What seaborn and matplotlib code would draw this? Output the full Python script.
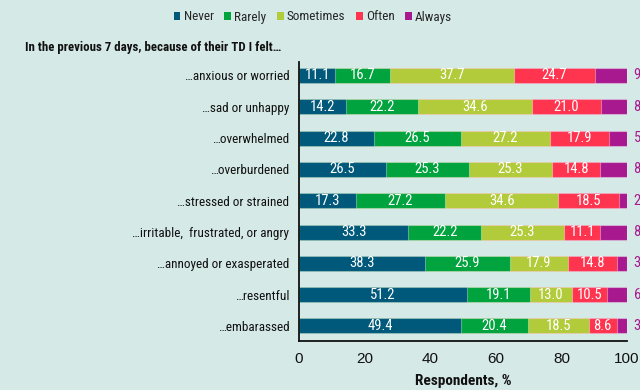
import matplotlib
matplotlib.use("Agg")
import matplotlib.pyplot as plt
import seaborn as sns
import pandas as pd
import numpy as np
from matplotlib.patches import Patch

categories = ["…anxious or worried", "…sad or unhappy", "…overwhelmed", "…overburdened",
              "…stressed or strained", "…irritable,  frustrated, or angry",
              "…annoyed or exasperated", "…resentful", "…embarassed"]
series = ["Never", "Rarely", "Sometimes", "Often", "Always"]
never = [11.1, 14.2, 22.8, 26.5, 17.3, 33.3, 38.3, 51.2, 49.4]
rarely = [16.7, 22.2, 26.5, 25.3, 27.2, 22.2, 25.9, 19.1, 20.4]
sometimes = [37.7, 34.6, 27.2, 25.3, 34.6, 25.3, 17.9, 13.0, 18.5]
often = [24.7, 21.0, 17.9, 14.8, 18.5, 11.1, 14.8, 10.5, 8.6]
always = [9.8, 8.0, 5.6, 8.1, 2.4, 8.1, 3.1, 6.2, 3.1]
colors = ["#00587a", "#00a33e", "#b2cb3a", "#ff344f", "#a8198f"]

bg = "#d5e9e7"
sns.set_theme(style="white")
NARROW = ["Roboto Condensed", "Liberation Sans", "DejaVu Sans"]
plt.rcParams["font.family"] = NARROW

fig = plt.figure(figsize=(6.4, 3.9), dpi=100, facecolor=bg)
ax = fig.add_axes([299/640, 1-341/390, 328/640, 279/390])
ax.set_facecolor(bg)

vals = [never, rarely, sometimes, often, always]
df = pd.DataFrame({s: v for s, v in zip(series, vals)})
df["cat"] = categories
cum = df[series].cumsum(axis=1)

for i in range(len(series) - 1, -1, -1):
    d = pd.DataFrame({"cat": categories, "val": cum[series[i]]})
    sns.barplot(data=d, y="cat", x="val", orient="h", color=colors[i], width=0.48,
                edgecolor=(1, 1, 1, 0.35), linewidth=0.8, saturation=1, ax=ax)

for j in range(len(categories)):
    for i in range(len(series)):
        v = vals[i][j]
        c = cum[series[i]].iloc[j]
        if i < 4:
            ax.text(c - v / 2, j, f"{v:.1f}", ha="center", va="center", color="white",
                    fontsize=10.5)
        else:
            ax.text(102, j, f"{v:.1f}", ha="left", va="center", color=colors[4],
                    fontsize=10.5, clip_on=False)

ax.set_xlim(0, 100)
ax.set_ylim(8.48, -0.43)
ax.set_xticks([0, 20, 40, 60, 80, 100])
ax.tick_params(axis="x", direction="out", length=5, width=1, color="black",
               labelsize=11, labelcolor="#111111", pad=3)
for lab in ax.get_xticklabels():
    lab.set_fontfamily(["Liberation Sans", "DejaVu Sans"])
ax.tick_params(axis="y", length=0, labelsize=9.5, labelcolor="#111111", pad=7)
ax.set_ylabel("")
ax.set_xlabel("Respondents, %", fontsize=11, fontweight="bold", color="#111111", labelpad=6)
for s in ["top", "right"]:
    ax.spines[s].set_visible(False)
for s in ["left", "bottom"]:
    ax.spines[s].set_color("#111111")
    ax.spines[s].set_linewidth(1.3)

fig.text(25/640, 1-47/390, "In the previous 7 days, because of their TD I felt…",
         fontsize=9.3, fontweight="bold", color="#111111", va="center", ha="left")

handles = [Patch(facecolor=c, edgecolor="none") for c in colors]
fig.legend(handles, series, loc="center", bbox_to_anchor=(313/640, 1-17/390), ncol=5,
           frameon=False, fontsize=9.5, handlelength=0.5, handleheight=0.5,
           handletextpad=0.25, columnspacing=0.8)

fig.savefig("out.png", dpi=100, facecolor=bg)
